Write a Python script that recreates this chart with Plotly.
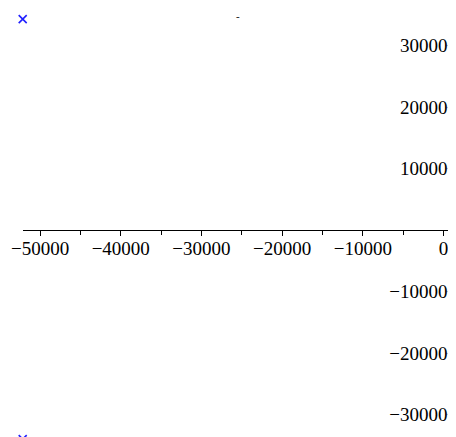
import plotly.graph_objects as go

# data
pt_x = [-52150, -52150]
pt_y = [34300, -34000]

x_tickvals = [-50000, -40000, -30000, -20000, -10000, 0]
y_tickvals = [-30000, -20000, -10000, 10000, 20000, 30000]

W, H = 448, 437
left_px, zero_px, right_px = 14.7, 435.5, 440.0
x_domain = [left_px / W, right_px / W]
x_range = [pt_x[0], pt_x[0] + (right_px - left_px) / (zero_px - left_px) * (0 - pt_x[0])]
# y = 0 at figure pixel 222, 61.5 px per 10000
y_range = [-(H - 222) / 61.5 * 10000, 222 / 61.5 * 10000]

fig = go.Figure()
fig.add_trace(go.Scatter(
    x=pt_x, y=pt_y, mode="markers", cliponaxis=False,
    marker=dict(symbol="x-thin", size=8, color="#2020ff",
                line=dict(width=1.6, color="#2020ff")),
    showlegend=False, hoverinfo="skip"))

font = dict(family="Liberation Serif, Times New Roman, serif", size=19, color="black")

zero_x_frac = (0 - x_range[0]) / (x_range[1] - x_range[0])
zero_y_paper = (0 - y_range[0]) / (y_range[1] - y_range[0])

fig.update_layout(
    width=W, height=H, margin=dict(l=0, r=0, t=0, b=0, autoexpand=False),
    paper_bgcolor="white", plot_bgcolor="white",
    xaxis=dict(range=x_range, domain=x_domain, anchor="free",
               position=zero_y_paper, side="bottom", automargin=False,
               showline=True, linecolor="black", linewidth=1,
               showgrid=False, zeroline=False, tickformat="d",
               tickvals=x_tickvals, ticks="outside", ticklen=5,
               tickcolor="black", tickfont=font, ticklabelstandoff=-4,
               minor=dict(dtick=5000, tick0=0, ticks="outside", ticklen=4,
                          tickcolor="black", showgrid=False)),
    yaxis=dict(range=y_range, domain=[0, 1], anchor="free",
               position=x_domain[0] + (x_domain[1] - x_domain[0]) * zero_x_frac,
               side="left", automargin=False,
               showline=False, showgrid=False, zeroline=False, tickformat="d",
               tickvals=y_tickvals, ticks="inside", ticklen=3,
               tickcolor="#cccccc", tickfont=font, ticklabelstandoff=-4),
    annotations=[dict(x=230 / W, y=1, xref="paper", yref="paper",
                      yanchor="top", yshift=0,
                      text="-", showarrow=False,
                      font=dict(family="Liberation Serif", size=11, color="black"))],
)

fig.write_html("out.html")
